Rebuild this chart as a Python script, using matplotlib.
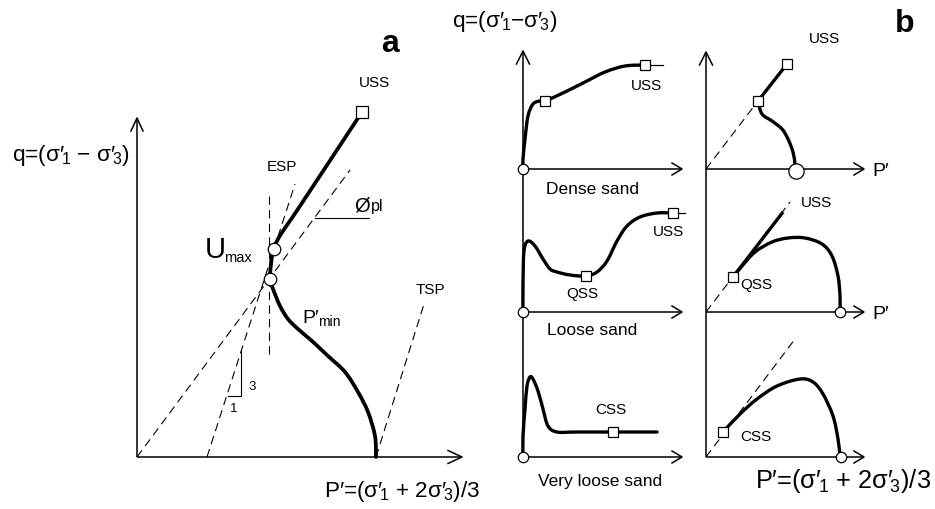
import numpy as np
import matplotlib
matplotlib.use('Agg')
import matplotlib.pyplot as plt
from matplotlib.path import Path
from matplotlib.patches import PathPatch

plt.rcParams['font.family'] = ['Liberation Sans', 'DejaVu Sans']
plt.rcParams['mathtext.fontset'] = 'custom'
plt.rcParams['mathtext.rm'] = 'Liberation Sans'
plt.rcParams['mathtext.it'] = 'Liberation Sans'
plt.rcParams['mathtext.bf'] = 'Liberation Sans:bold'
plt.rcParams['lines.scale_dashes'] = False

# ---------------- data (sketch coordinates) ----------------
# Panel a: effective stress path
a_upper_x = [273, 281, 300, 362]
a_upper_y = [250, 235, 207, 113]
a_lower_x = [273, 271, 270, 273, 280, 288, 298, 312, 328, 345, 358, 368, 375, 376]
a_lower_y = [250, 265, 280, 290, 307, 320, 330, 342, 357, 373, 393, 413, 437, 458]
a_phi_x, a_phi_y = [137, 350], [458, 171]
a_esp_x, a_esp_y = [207, 295], [458, 185]
a_umax_x, a_umax_y = [269, 269], [197, 355]
a_tsp_x, a_tsp_y = [376, 424], [458, 305]
a_square_x, a_square_y = [362], [113]
a_circle_x, a_circle_y = [274, 270], [250, 280]

# Panel b (left column): q vs strain
dense_x = [523, 523, 525, 528, 533, 540, 545, 565, 585, 605, 625, 645]
dense_y = [170, 160, 140, 117, 105, 102, 102, 93, 83, 73, 67, 66]
dense_tail_x, dense_tail_y = [645, 663], [66, 66]
loose_x = [523, 523, 524, 528, 535, 543, 550, 557, 570, 586, 597, 607, 617, 627, 640, 657, 673]
loose_y = [313, 285, 252, 242, 247, 260, 270, 273, 276, 277, 273, 262, 242, 227, 218, 214, 214]
loose_tail_x, loose_tail_y = [673, 685], [214, 214]
vloose_x = [523, 523, 525, 527, 530, 533, 538, 543, 548, 557, 577, 613, 657]
vloose_y = [458, 437, 410, 387, 378, 380, 392, 410, 427, 433, 433, 433, 433]
mid_square_x = [545, 645, 586, 673, 613]
mid_square_y = [102, 66, 277, 214, 433]
mid_circle_x = [523, 523, 523]
mid_circle_y = [170, 313, 458]

# Panel b (right column): stress paths
r1_dash_x, r1_dash_y = [706, 758], [170, 102]
r1_line_x, r1_line_y = [758, 787], [102, 65]
r1_curve_x = [758, 762, 772, 782, 788, 793, 795, 796]
r1_curve_y = [102, 115, 122, 130, 140, 153, 165, 172]
r2_dash_x, r2_dash_y = [706, 790], [313, 203]
r2_line_x, r2_line_y = [733, 783], [278, 213]
r2_curve_x = [733, 742, 755, 772, 788, 805, 822, 832, 838, 840, 840]
r2_curve_y = [278, 267, 253, 243, 239, 239, 245, 257, 277, 297, 313]
r3_dash_x, r3_dash_y = [706, 795], [458, 340]
r3_curve_x = [723, 740, 757, 777, 800, 813, 823, 833, 838, 840]
r3_curve_y = [433, 415, 400, 387, 380, 383, 395, 417, 440, 457]
r_square_x = [758, 787, 733, 723]
r_square_y = [102, 65, 278, 433]
r_bigcircle_x, r_bigcircle_y = [796], [172]
r_circle_x, r_circle_y = [840, 841], [313, 458]

# labels
q_label = r"q=($σ′_{\!1}$ − $σ′_{\!3}$)"
q_label_top = r"q=($σ′_{\!1}$−$σ′_{\!3}$)"
p_label = r"P′=($σ′_{\!1}$ + 2$σ′_{\!3}$)/3"

# ---------------- drawing ----------------
fig = plt.figure(figsize=(9.35, 5.10), dpi=100)
ax = fig.add_axes([0, 0, 1, 1])
ax.set_xlim(0, 935)
ax.set_ylim(510, 0)
ax.axis('off')

K = 'black'


def smooth(xs, ys, lw=2.5, color=K, z=3):
    pts = np.column_stack([xs, ys]).astype(float)
    n = len(pts)
    verts = [pts[0]]
    codes = [Path.MOVETO]
    for i in range(n - 1):
        p0 = pts[i - 1] if i > 0 else pts[i]
        p1 = pts[i]
        p2 = pts[i + 1]
        p3 = pts[i + 2] if i + 2 < n else pts[i + 1]
        c1 = p1 + (p2 - p0) / 6.0
        c2 = p2 - (p3 - p1) / 6.0
        verts += [c1, c2, p2]
        codes += [Path.CURVE4] * 3
    ax.add_patch(PathPatch(Path(verts, codes), fill=False, lw=lw, edgecolor=color,
                           capstyle='round', joinstyle='round', zorder=z))


def axis_arrow(x0, y0, x1, y1, L=12, W=6, lw=1.1):
    ax.plot([x0, x1], [y0, y1], color=K, lw=lw, solid_capstyle='butt', zorder=2)
    d = np.array([x1 - x0, y1 - y0], float)
    d /= np.hypot(*d)
    nrm = np.array([-d[1], d[0]])
    tip = np.array([x1, y1], float)
    a = tip - L * d + W * nrm
    b = tip - L * d - W * nrm
    ax.plot([a[0], tip[0], b[0]], [a[1], tip[1], b[1]], color=K, lw=lw, zorder=2)


def dashed(xs, ys):
    ax.plot(xs, ys, color=K, lw=0.8, dashes=(6, 3.8), zorder=2)


def squares(xs, ys, ms):
    ax.plot(xs, ys, 's', ms=ms, mfc='white', mec=K, mew=0.9, zorder=5)


def circles(xs, ys, ms):
    ax.plot(xs, ys, 'o', ms=ms, mfc='white', mec=K, mew=0.9, zorder=5)


# ---- panel a ----
axis_arrow(137, 458, 137, 119, L=13, W=6)
axis_arrow(137, 458, 462, 458, L=14, W=6.5)
dashed(a_phi_x, a_phi_y)
dashed(a_esp_x, a_esp_y)
dashed(a_umax_x, a_umax_y)
dashed(a_tsp_x, a_tsp_y)
smooth(a_upper_x, a_upper_y, lw=2.7)
smooth(a_lower_x, a_lower_y, lw=2.7)
squares(a_square_x, a_square_y, 8.5)
circles(a_circle_x, a_circle_y, 9)
ax.plot([241, 241, 228], [352, 397, 397], color=K, lw=0.8)
ax.plot([315, 369], [219, 219], color=K, lw=0.8)

ax.text(252, 387, '3', fontsize=9.5, ha='center', va='center')
ax.text(234, 409, '1', fontsize=9.5, ha='center', va='center')
ax.text(362, 206, 'Ø', fontsize=14.5, ha='center', va='center')
ax.text(371, 211, 'pl', fontsize=11.5, ha='left', va='baseline')
ax.text(282, 167, 'ESP', fontsize=11, ha='center', va='center')
ax.text(374, 83, 'USS', fontsize=11, ha='center', va='center')
ax.text(430, 290, 'TSP', fontsize=11, ha='center', va='center')
ax.text(205, 258, 'U', fontsize=21, ha='left', va='baseline')
ax.text(224, 262, 'max', fontsize=10.5, ha='left', va='baseline')
ax.text(302, 323, "P′", fontsize=14, ha='left', va='baseline')
ax.text(318, 326, 'min', fontsize=10, ha='left', va='baseline')
ax.text(390, 44, 'a', fontsize=23, fontweight='bold', ha='center', va='center')
ax.text(12, 161, q_label, fontsize=16.2, ha='left', va='baseline')
ax.text(324, 497, p_label, fontsize=16.2, ha='left', va='baseline')

# ---- panel b, left column ----
axis_arrow(523, 458, 523, 52, L=13, W=6.5)
for yy in mid_circle_y:
    axis_arrow(523, yy, 682, yy, L=10, W=6)
smooth(dense_x, dense_y, lw=2.4)
ax.plot(dense_tail_x, dense_tail_y, color=K, lw=0.9)
smooth(loose_x, loose_y, lw=2.4)
ax.plot(loose_tail_x, loose_tail_y, color=K, lw=0.9)
smooth(vloose_x, vloose_y, lw=2.4)
squares(mid_square_x, mid_square_y, 7.5)
circles(mid_circle_x, mid_circle_y, 7.5)

ax.text(452, 27, q_label_top, fontsize=16.2, ha='left', va='baseline')
ax.text(647, 86, 'USS', fontsize=11, ha='center', va='center')
ax.text(592, 190, 'Dense sand', fontsize=12.5, ha='center', va='center')
ax.text(668, 232, 'USS', fontsize=11, ha='center', va='center')
ax.text(582, 294, 'QSS', fontsize=11, ha='center', va='center')
ax.text(592, 331, 'Loose sand', fontsize=12.5, ha='center', va='center')
ax.text(611, 410, 'CSS', fontsize=11, ha='center', va='center')
ax.text(600, 482, 'Very loose sand', fontsize=12.5, ha='center', va='center')

# ---- panel b, right column ----
axis_arrow(706, 458, 706, 53, L=13, W=6.5)
for yy in [170, 313, 458]:
    axis_arrow(706, yy, 864, yy, L=10, W=6)
dashed(r1_dash_x, r1_dash_y)
dashed(r2_dash_x, r2_dash_y)
dashed(r3_dash_x, r3_dash_y)
ax.plot(r1_line_x, r1_line_y, color=K, lw=2.4, solid_capstyle='butt')
ax.plot(r2_line_x, r2_line_y, color=K, lw=2.4, solid_capstyle='butt')
smooth(r1_curve_x, r1_curve_y, lw=2.4)
smooth(r2_curve_x, r2_curve_y, lw=2.4)
smooth(r3_curve_x, r3_curve_y, lw=2.4)
squares(r_square_x, r_square_y, 7.5)
circles(r_bigcircle_x, r_bigcircle_y, 11)
circles(r_circle_x, r_circle_y, 7.5)

ax.text(905, 24, 'b', fontsize=23, fontweight='bold', ha='center', va='center')
ax.text(824, 39, 'USS', fontsize=11, ha='center', va='center')
ax.text(872, 176, "P′", fontsize=14, ha='left', va='baseline')
ax.text(817, 203, 'USS', fontsize=11, ha='center', va='center')
ax.text(756, 285, 'QSS', fontsize=11, ha='center', va='center')
ax.text(872, 319, "P′", fontsize=14, ha='left', va='baseline')
ax.text(756, 437, 'CSS', fontsize=11, ha='center', va='center')
ax.text(755, 488, p_label, fontsize=18.3, ha='left', va='baseline')

fig.savefig('out.png', dpi=100)
